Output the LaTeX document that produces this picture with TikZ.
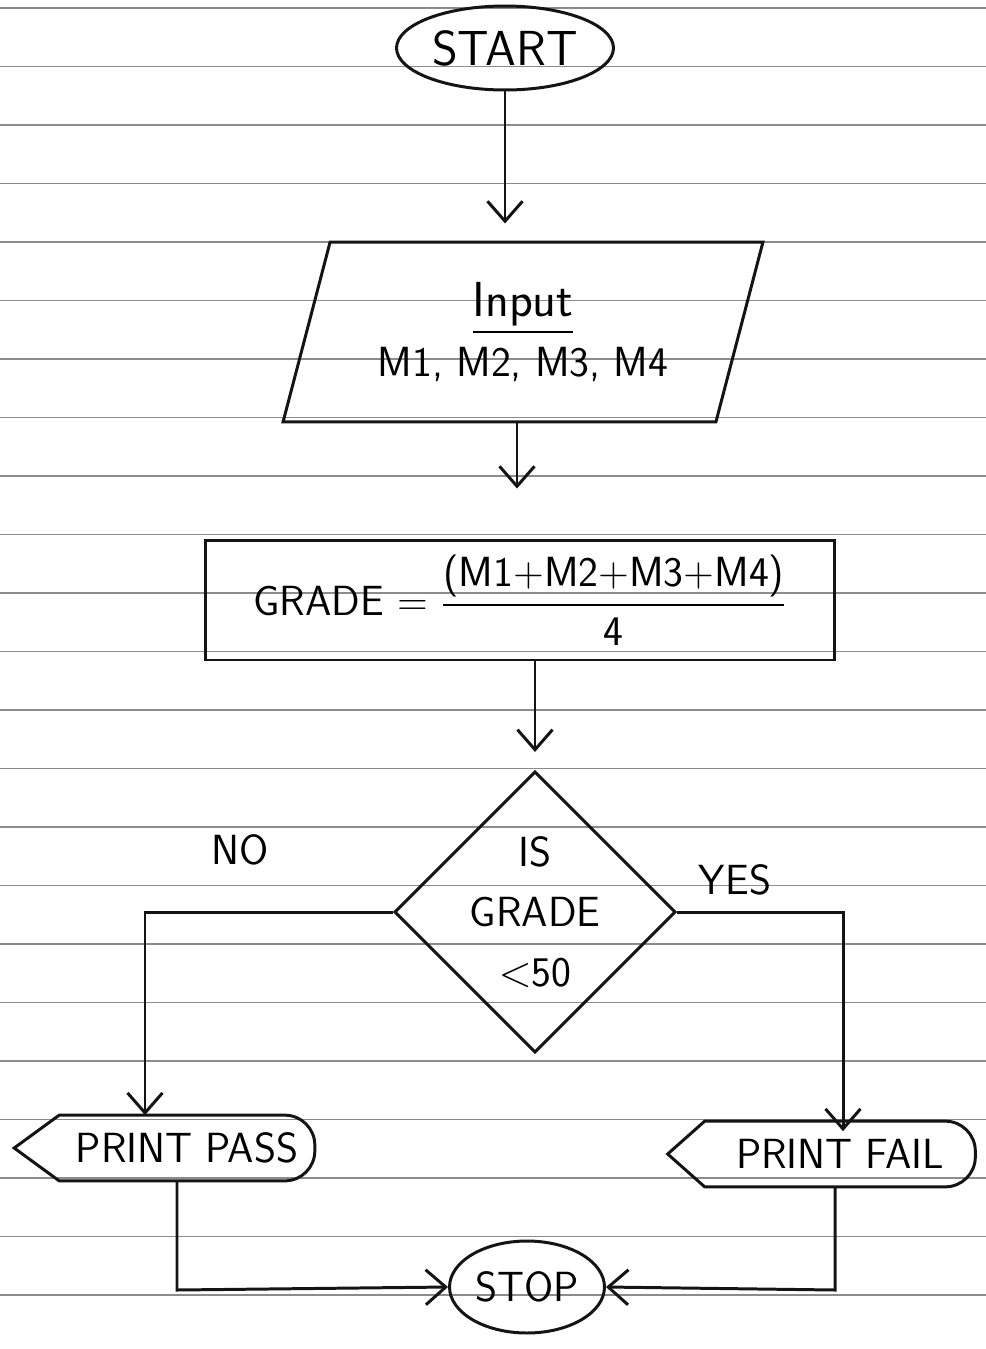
\documentclass[tikz,border=0pt]{standalone}
\usepackage{amsmath}
\usepackage{xcolor}
\usepackage{tikz}
\usetikzlibrary{shapes.geometric}
\usetikzlibrary{arrows.meta}
\definecolor{ink}{rgb}{0.08,0.08,0.08}
\definecolor{ruling}{rgb}{0.55,0.55,0.55}

% outline of a print box: pointed on the left, round on the right
\newcommand{\printoutline}[2]{%
  \draw[ink,line width=1.7pt] ([xshift=-#2]#1.west) -- (#1.north west)
    [rounded corners=0.6cm] -- (#1.north east) -- (#1.south east)
    [sharp corners] -- (#1.south west) -- cycle;}

\tikzset{
  handfont/.style={font=\sffamily\fontsize{24}{34}\selectfont},
  term/.style={ellipse, draw=ink, line width=1.7pt, inner sep=0pt, handfont},
  inbox/.style={trapezium, trapezium left angle=67, trapezium right angle=113,
    trapezium stretches body=true, draw=ink, line width=1.7pt, align=center, handfont},
  procbox/.style={rectangle, draw=ink, line width=1.7pt, handfont},
  decbox/.style={diamond, draw=ink, line width=1.7pt, inner sep=0pt, align=center, handfont},
  outbox/.style={rectangle, inner sep=0pt, minimum height=1.3cm, handfont},
  flow/.style={-{Straight Barb[length=4mm,width=7mm]}, draw=ink, line width=1.7pt},
  lbl/.style={handfont},
  rule/.style={draw=ruling, line width=0.8pt}
}

\begin{document}
\begin{tikzpicture}[x=0.02cm, y=-0.02cm]
    \useasboundingbox (0,0) rectangle (986,1349);

    % ruled paper
    \foreach \k in {0,...,22}
    \draw[rule] (0,8+58.5*\k) -- (986,8+58.5*\k);

    % draw nodes
    \node[term, minimum width=4.34cm, minimum height=1.68cm,
      font=\sffamily\fontsize{28}{30}\selectfont] (start) at (505,48) {START};
    \node[inbox, minimum width=9.6cm, minimum height=3.6cm] (input) at (523,332)
      {{\fontsize{28}{30}\selectfont\underline{Input}}\\M1, M2, M3, M4};
    \node[procbox, minimum width=12.6cm, minimum height=2.4cm] (grade) at (520,600)
      {GRADE = $\dfrac{\textsf{(M1+M2+M3+M4)}}{\textsf{4}}$};
    \node[decbox, minimum width=4.66cm, minimum height=5.54cm] (decision) at (535,912)
      {IS\\GRADE\\$<$50};
    \node[outbox, minimum width=5.1cm] (pass) at (187,1148) {PRINT PASS};
    \node[outbox, minimum width=5.4cm] (fail) at (840,1154) {PRINT FAIL};
    \node[term, minimum width=3.1cm, minimum height=1.84cm] (stop) at (527,1287) {STOP};
    \printoutline{pass}{0.9cm}
    \printoutline{fail}{0.74cm}

    % branch labels
    \node[lbl] (lblno) at (240,850) {NO};
    \node[lbl] (lblyes) at (735,880) {YES};

    % bends of the connectors
    \coordinate (nobend) at (145,912);
    \coordinate (yesbend) at (843,912);
    \coordinate (passdrop) at (177,1290);
    \coordinate (faildrop) at (835,1290);

    % draw connectors
    \draw[flow, shorten >=0.34cm] (start.south) -- (start.south |- input.north);
    \draw[flow, shorten >=1cm] (input.south -| 517,0) -- (grade.north -| 517,0);
    \draw[flow, shorten >=0.36cm] (grade.south -| decision.north) -- (decision.north);
    \draw[flow] (decision.west) -- (nobend) -- (nobend |- pass.north);
    \draw[flow] (decision.east) -- (yesbend) -- ([yshift=-0.2cm]yesbend |- fail.north);
    \draw[flow] (passdrop |- pass.south) -- (passdrop) -- (stop.west);
    \draw[flow] (faildrop |- fail.south) -- (faildrop) -- (stop.east);
\end{tikzpicture}
\end{document}
